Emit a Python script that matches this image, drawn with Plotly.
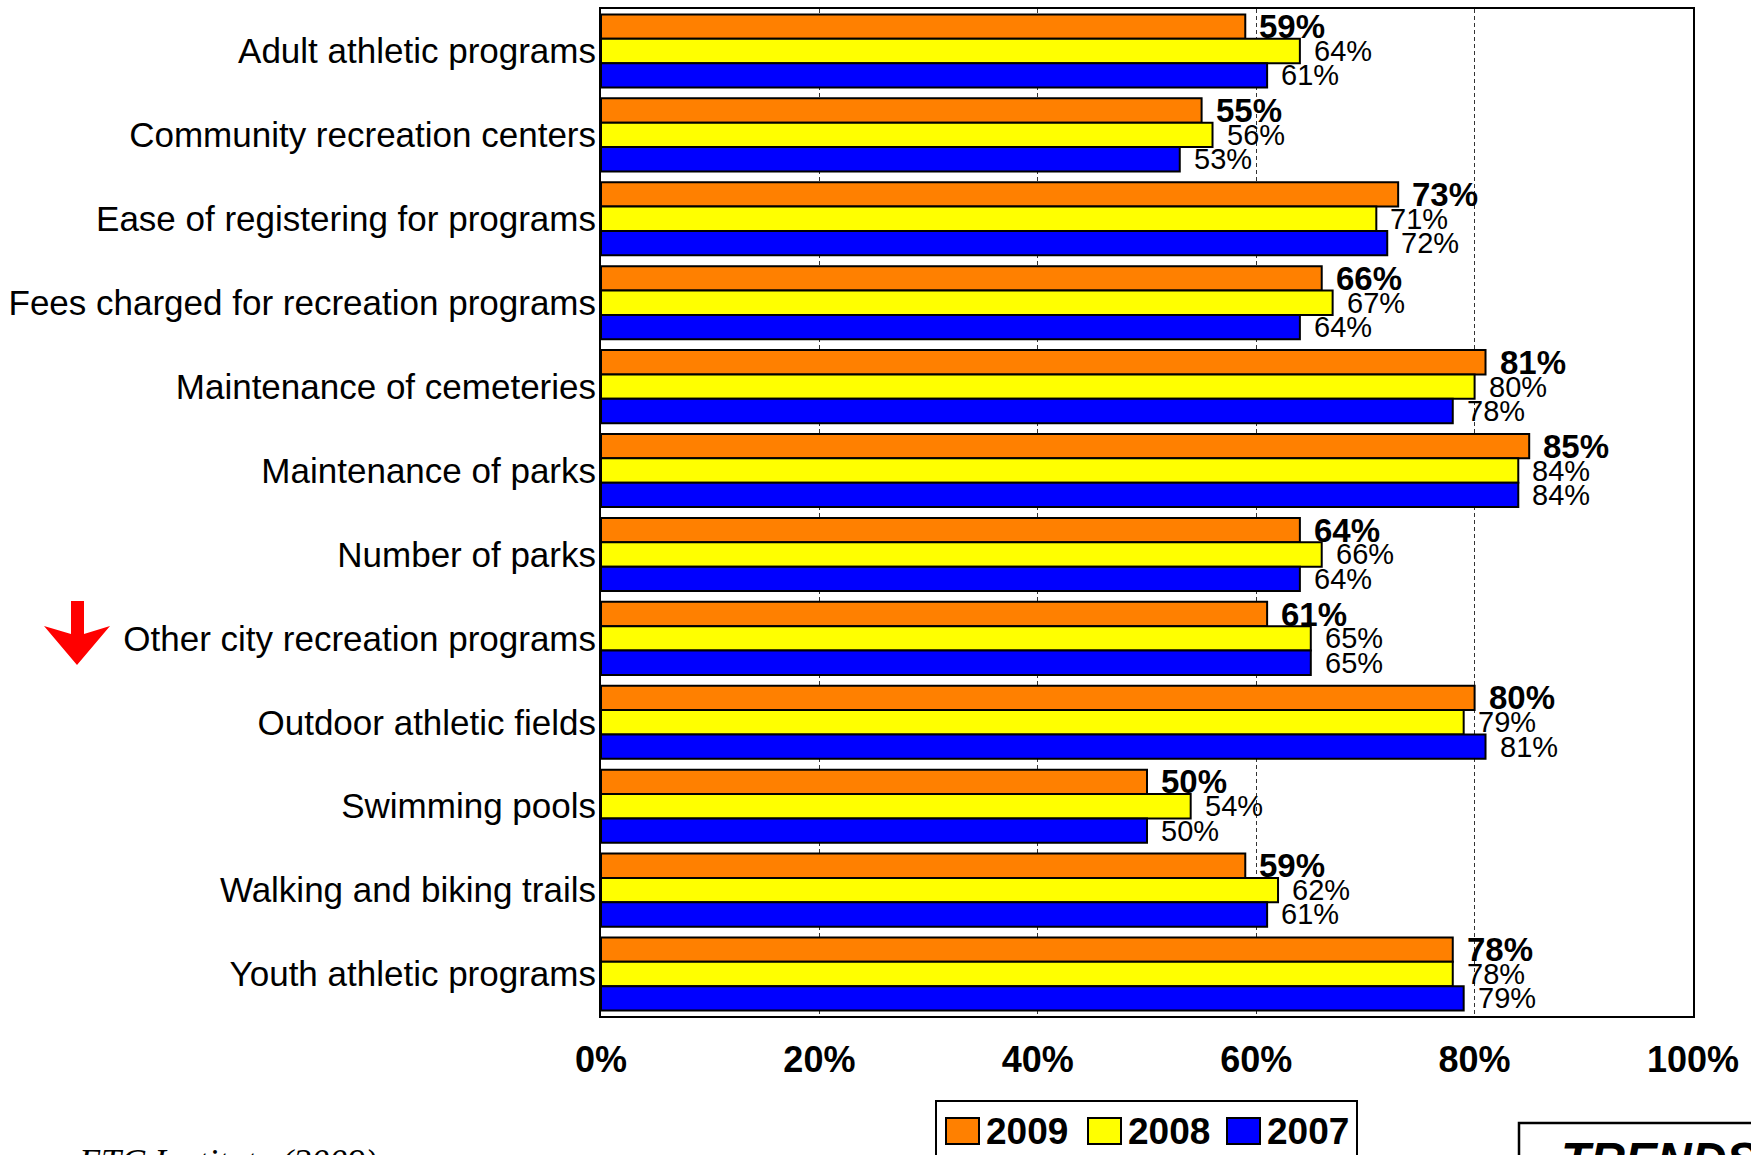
import plotly.graph_objects as go

# ---- data -------------------------------------------------------------
categories = [
    "Adult athletic programs",
    "Community recreation centers",
    "Ease of registering for programs",
    "Fees charged for recreation programs",
    "Maintenance of cemeteries",
    "Maintenance of parks",
    "Number of parks",
    "Other city recreation programs",
    "Outdoor athletic fields",
    "Swimming pools",
    "Walking and biking trails",
    "Youth athletic programs",
]
years = ["2009", "2008", "2007"]
values_2009 = [59, 55, 73, 66, 81, 85, 64, 61, 80, 50, 59, 78]
values_2008 = [64, 56, 71, 67, 80, 84, 66, 65, 79, 54, 62, 78]
values_2007 = [61, 53, 72, 64, 78, 84, 64, 65, 81, 50, 61, 79]
x_tick_values = [0, 20, 40, 60, 80, 100]
x_tick_labels = ["0%", "20%", "40%", "60%", "80%", "100%"]
source_note = "ETC Institute (2009)"
badge_text = "TRENDS"

# ---- styling ----------------------------------------------------------
series = [values_2009, values_2008, values_2007]
colors = ["#FF8000", "#FFFF00", "#0000FF"]
W, H = 1751, 1155
M_L, M_R, M_T, M_B = 601, 58, 9, 139
BARGAP = 0.13
SANS = "Liberation Sans, Arial, sans-serif"
SERIF = "Liberation Serif, Times New Roman, serif"

plot_w = W - M_L - M_R
plot_h = H - M_T - M_B


def px(x):
    """Horizontal page pixel -> paper coordinate."""
    return (x - M_L) / plot_w


def py(y):
    """Vertical page pixel -> paper coordinate."""
    return (H - M_B - y) / plot_h


fig = go.Figure()
for name, vals, col in zip(years, series, colors):
    fig.add_trace(go.Bar(
        orientation="h",
        x=vals,
        y=categories,
        name=name,
        marker=dict(color=col, line=dict(color="black", width=2)),
        showlegend=False,
    ))

# value labels just past the end of each bar
n = len(series)
slot = (1 - BARGAP) / n
annotations = []
for k, vals in enumerate(series):
    offset = (k - (n - 1) / 2) * slot
    for i, v in enumerate(vals):
        bold = k == 0
        annotations.append(dict(
            x=v, y=i + offset, xref="x", yref="y",
            text=f"{v}%", showarrow=False,
            xanchor="left", yanchor="middle", xshift=12,
            font=dict(family=SANS, size=33 if bold else 29, color="black",
                      weight="bold" if bold else "normal"),
        ))

shapes = []

# legend box with colour swatches
shapes.append(dict(type="rect", xref="paper", yref="paper",
                   x0=px(936), x1=px(1357), y0=py(1101), y1=py(1220),
                   line=dict(color="black", width=2), fillcolor="white",
                   layer="above"))
swatch_left = [946, 1088, 1227]
for name, col, sx in zip(years, colors, swatch_left):
    shapes.append(dict(type="rect", xref="paper", yref="paper",
                       x0=px(sx), x1=px(sx + 33), y0=py(1118), y1=py(1144),
                       line=dict(color="black", width=2), fillcolor=col,
                       layer="above"))
    annotations.append(dict(
        x=px(sx + 38), y=py(1131), xref="paper", yref="paper",
        text=name, showarrow=False, xanchor="left", yanchor="middle",
        font=dict(family=SANS, size=37, color="black", weight="bold"),
    ))

# red marker pointing at the highlighted row
arrow_pts = [(71, 601), (84, 601), (84, 634), (110, 626), (77, 665),
             (44, 626), (71, 634)]
path = "M " + " L ".join(f"{px(a):.5f},{py(b):.5f}" for a, b in arrow_pts) + " Z"
shapes.append(dict(type="path", xref="paper", yref="paper", path=path,
                   fillcolor="#FF0000", line=dict(color="#FF0000", width=0)))

# badge box at the bottom right
shapes.append(dict(type="rect", xref="paper", yref="paper",
                   x0=px(1519), x1=px(1780), y0=py(1123), y1=py(1220),
                   line=dict(color="black", width=2.5), fillcolor="white"))
annotations.append(dict(
    x=px(1559), y=py(1131), xref="paper", yref="paper",
    text=badge_text, showarrow=False, xanchor="left", yanchor="top",
    font=dict(family=SANS, size=48, color="black", weight="bold",
              style="italic"),
))

# source note along the bottom edge
annotations.append(dict(
    x=px(76), y=py(1140), xref="paper", yref="paper",
    text=source_note, showarrow=False, xanchor="left", yanchor="top",
    font=dict(family=SERIF, size=36, color="black", style="italic"),
))

fig.update_layout(
    width=W, height=H,
    margin=dict(l=M_L, r=M_R, t=M_T, b=M_B, pad=0, autoexpand=False),
    barmode="group", bargap=BARGAP, bargroupgap=0,
    plot_bgcolor="white", paper_bgcolor="white",
    annotations=annotations, shapes=shapes,
    xaxis=dict(
        range=[0, 100], tickvals=x_tick_values, ticktext=x_tick_labels,
        showgrid=True, gridcolor="#333333", gridwidth=1, griddash="4px,3px",
        zeroline=False, showline=True, mirror=True, linecolor="black",
        linewidth=2, ticks="", ticklabelstandoff=11, automargin=False,
        tickfont=dict(family=SANS, size=36, color="black", weight="bold"),
    ),
    yaxis=dict(
        type="category", categoryorder="array", categoryarray=categories,
        range=[len(categories) - 0.5, -0.5],
        showgrid=False, zeroline=False, showline=True, mirror=True,
        linecolor="black", linewidth=2, ticks="", ticklabelstandoff=-4,
        automargin=False,
        tickfont=dict(family=SANS, size=35, color="black"),
    ),
)

fig.write_html("out.html")
